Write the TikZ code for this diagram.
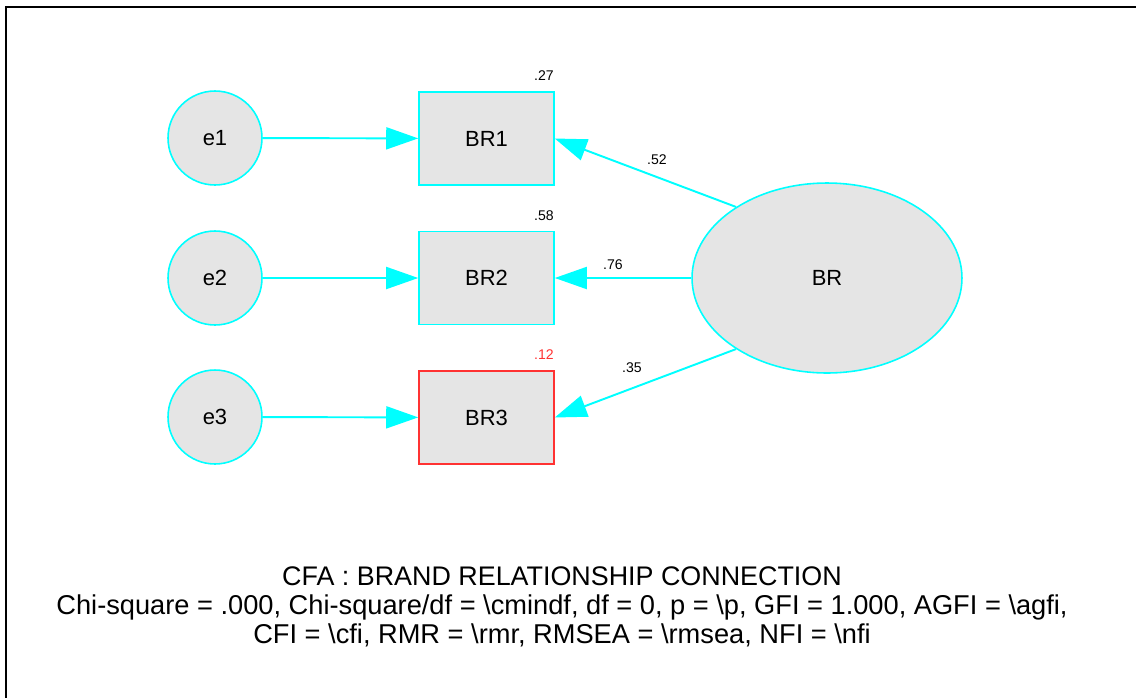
\documentclass[tikz,border=0pt]{standalone}
\usepackage{fontspec}
\setmainfont{Liberation Sans}
\usetikzlibrary{arrows.meta,shapes.geometric}
\definecolor{amoscyan}{RGB}{0,255,255}
\definecolor{amosgray}{RGB}{229,229,229}
\definecolor{amosred}{RGB}{255,50,50}
\tikzset{
	errnode/.style={circle, draw=amoscyan, fill=amosgray, line width=0.9pt, minimum size=1.88cm, inner sep=0pt, font=\fontsize{12.5}{14}\selectfont},
	obsnode/.style={rectangle, draw=amoscyan, fill=amosgray, line width=0.9pt, minimum width=2.7cm, minimum height=1.86cm, inner sep=0pt, font=\fontsize{12.5}{14}\selectfont},
	latnode/.style={ellipse, draw=amoscyan, fill=amosgray, line width=0.9pt, minimum width=5.4cm, minimum height=3.8cm, inner sep=0pt, font=\fontsize{12.5}{14}\selectfont},
	path/.style={draw=amoscyan, line width=1.1pt, -{Triangle[length=0.64cm, width=0.44cm]}},
	coef/.style={font=\fontsize{8}{9}\selectfont, inner sep=0pt}
}
\begin{document}
\begin{tikzpicture}[x=0.02cm, y=-0.02cm]
		%%%%% START %%%%%
		\useasboundingbox (0, 0) rectangle (1136, 697);
		\draw[line width=1.1pt] (6, 720) -- (6, 7) -- (1150, 7);
		
		\node[errnode] (e1) at (215, 138) {e1};
		\node[errnode] (e2) at (215, 278) {e2};
		\node[errnode] (e3) at (215, 417) {e3};
		
		\node[obsnode] (br1) at (486.5, 138.5) {BR1};
		\node[obsnode] (br2) at (486.5, 278) {BR2};
		\node[obsnode, draw=amosred] (br3) at (486.5, 417.5) {BR3};
		
		\node[latnode] (br) at (827, 278) {BR};
		
		\draw[path] (e1) -- (br1);
		\draw[path] (e2) -- (br2);
		\draw[path] (e3) -- (br3);
		
		\draw[path] (br.142) -- (br1.east);
		\draw[path] (br) -- (br2.east);
		\draw[path] (br.218) -- (br3.east);
		
		\node[coef] (r1) at (544, 76) {.27};
		\node[coef] (r2) at (544, 216) {.58};
		\node[coef, text=amosred] (r3) at (544, 355) {.12};
		\node[coef] (w1) at (657, 160) {.52};
		\node[coef] (w2) at (613, 265) {.76};
		\node[coef] (w3) at (632, 368) {.35};
		
		\node[align=center, font=\fontsize{15.5}{16.5}\selectfont] (fit) at (562, 607) {{\fontsize{15.3}{16.5}\selectfont CFA : BRAND RELATIONSHIP CONNECTION}\\
			Chi-square = .000, Chi-square/df = \textbackslash cmindf, df = 0, p = \textbackslash p, GFI = 1.000, AGFI = \textbackslash agfi,\\
			CFI = \textbackslash cfi, RMR = \textbackslash rmr, RMSEA = \textbackslash rmsea, NFI = \textbackslash nfi};
		%%%%% END %%%%%
	\end{tikzpicture}
\end{document}
